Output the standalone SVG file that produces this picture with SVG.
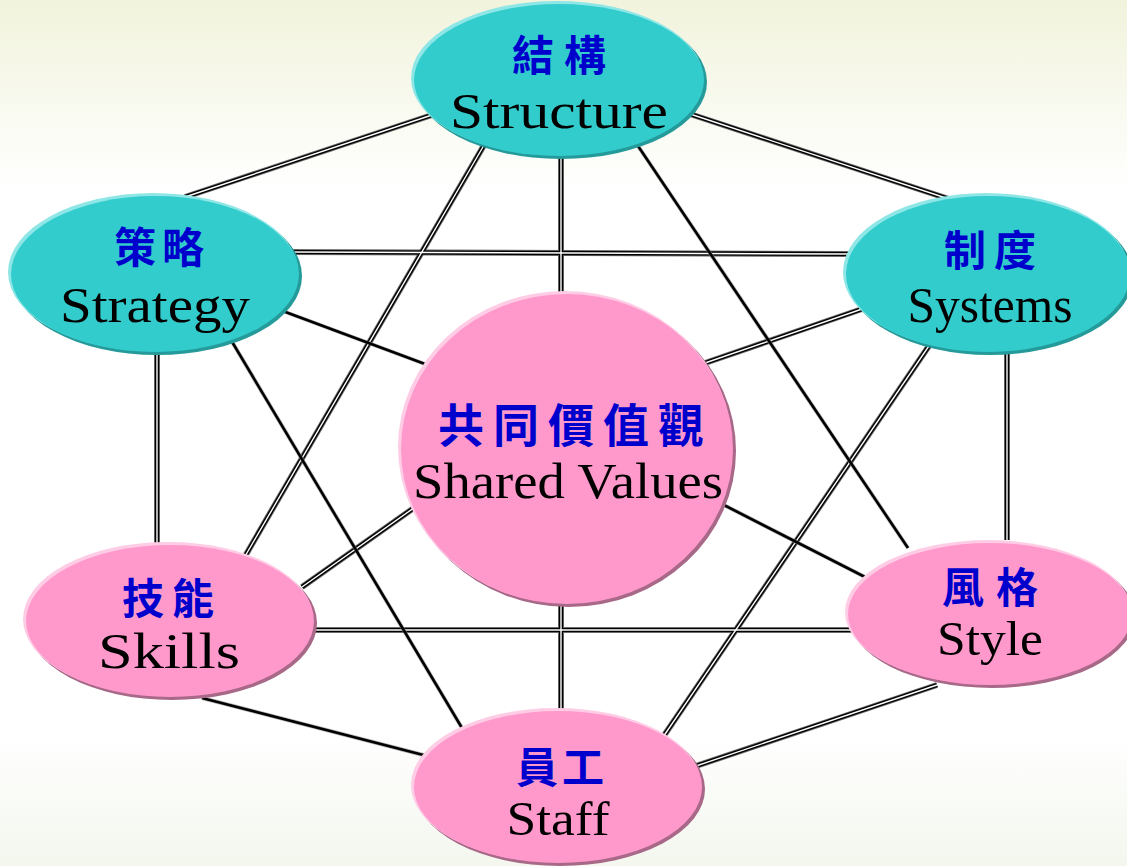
<svg xmlns="http://www.w3.org/2000/svg" xmlns:xlink="http://www.w3.org/1999/xlink" width="1127" height="866" viewBox="0 0 1127 866">
<style>
.en{font-family:"Liberation Serif","Times New Roman",serif;font-size:51px;fill:#000;text-anchor:middle}
.zh{font-family:"Noto Sans CJK TC","Noto Sans CJK SC",sans-serif;font-size:42px;font-weight:bold;fill:#0000CC;text-anchor:middle}
.tealS{fill:#249a9a}.tealH{fill:#8fe6e6}.teal{fill:#33CCCC}
.pinkS{fill:#a86888}.pinkH{fill:#ffcce6}.pink{fill:#FF99CC}
.dblA{stroke:#6a6a6a;stroke-width:6;fill:none}
.dblB{stroke:#000;stroke-width:4.2;fill:none}
.dblC{stroke:#fff;stroke-width:1.4;fill:none}
.sglA{stroke:#888;stroke-width:4;fill:none;opacity:0.6}
.sglB{stroke:#000;stroke-width:2.6;fill:none}
</style>
<defs>
<linearGradient id="bg" x1="0" y1="0" x2="0" y2="1">
<stop offset="0" stop-color="#F1F3DC"/>
<stop offset="0.22" stop-color="#FFFFFF"/>
<stop offset="0.85" stop-color="#FFFFFF"/>
<stop offset="1" stop-color="#F3F7EE"/>
</linearGradient>
<path id="d1" d="M432,115 L185,197"/>
<path id="d2" d="M690,114 L952,200"/>
<path id="d3" d="M561,155 L561,297"/>
<path id="d4" d="M487,140 L244,558"/>
<path id="d6" d="M287,252 L850,254"/>
<path id="d8" d="M157,352 L157,547"/>
<path id="d10" d="M865,308 L705,363"/>
<path id="d11" d="M1007,352 L1007,540"/>
<path id="d12" d="M935,337 L661,740"/>
<path id="d13" d="M418,505 L302,587"/>
<path id="d15" d="M561,604 L561,714"/>
<path id="d16" d="M315,630 L865,630"/>
<path id="d18" d="M937,685 L690,768"/>
<path id="s5" d="M634,140 L908,548"/>
<path id="s7" d="M272,307 L433,367"/>
<path id="s9" d="M228,335 L462,728"/>
<path id="s14" d="M718,502 L865,577"/>
<path id="s17" d="M202,698 L435,758"/>
</defs>
<rect x="0" y="0" width="1127" height="866" fill="url(#bg)"/>
<g id="connectors">
<g class="dblA"><use href="#d1"/><use href="#d2"/><use href="#d3"/><use href="#d4"/><use href="#d6"/><use href="#d8"/><use href="#d10"/><use href="#d11"/><use href="#d12"/><use href="#d13"/><use href="#d15"/><use href="#d16"/><use href="#d18"/></g>
<g class="dblB"><use href="#d1"/><use href="#d2"/><use href="#d3"/><use href="#d4"/><use href="#d6"/><use href="#d8"/><use href="#d10"/><use href="#d11"/><use href="#d12"/><use href="#d13"/><use href="#d15"/><use href="#d16"/><use href="#d18"/></g>
<g class="dblC"><use href="#d1"/><use href="#d2"/><use href="#d3"/><use href="#d4"/><use href="#d6"/><use href="#d8"/><use href="#d10"/><use href="#d11"/><use href="#d12"/><use href="#d13"/><use href="#d15"/><use href="#d16"/><use href="#d18"/></g>
<g class="sglA"><use href="#s5"/><use href="#s7"/><use href="#s9"/><use href="#s14"/><use href="#s17"/></g>
<g class="sglB"><use href="#s5"/><use href="#s7"/><use href="#s9"/><use href="#s14"/><use href="#s17"/></g>
</g>
<g id="structure">
<ellipse class="tealS" cx="561" cy="82" rx="146" ry="77"/>
<ellipse class="tealH" cx="557" cy="78" rx="146" ry="77"/>
<ellipse class="teal" cx="559" cy="80" rx="145" ry="76"/>
<text class="zh" x="559" y="71" textLength="94">結構</text>
<text class="en" x="559" y="128" textLength="218" lengthAdjust="spacingAndGlyphs">Structure</text>
</g>
<g id="strategy">
<ellipse class="tealS" cx="157" cy="276" rx="145" ry="79"/>
<ellipse class="tealH" cx="153" cy="272" rx="145" ry="79"/>
<ellipse class="teal" cx="155" cy="274" rx="144" ry="78"/>
<text class="zh" x="159" y="263" textLength="90">策略</text>
<text class="en" x="155" y="322" textLength="190" lengthAdjust="spacingAndGlyphs">Strategy</text>
</g>
<g id="systems">
<ellipse class="tealS" cx="990" cy="276" rx="143" ry="79"/>
<ellipse class="tealH" cx="986" cy="272" rx="143" ry="79"/>
<ellipse class="teal" cx="988" cy="274" rx="142" ry="78"/>
<text class="zh" x="990" y="266" textLength="92">制度</text>
<text class="en" x="990" y="322" textLength="165" lengthAdjust="spacingAndGlyphs">Systems</text>
</g>
<g id="shared-values">
<ellipse class="pinkS" cx="569" cy="451" rx="167" ry="156"/>
<ellipse class="pinkH" cx="565" cy="447" rx="167" ry="156"/>
<ellipse class="pink" cx="567" cy="449" rx="166" ry="155"/>
<text class="zh" x="571" y="442" style="font-size:46px" textLength="266">共同價值觀</text>
<text class="en" x="568" y="498" textLength="310" lengthAdjust="spacingAndGlyphs">Shared Values</text>
</g>
<g id="skills">
<ellipse class="pinkS" cx="172" cy="623" rx="145" ry="77"/>
<ellipse class="pinkH" cx="168" cy="619" rx="145" ry="77"/>
<ellipse class="pink" cx="170" cy="621" rx="144" ry="76"/>
<text class="zh" x="168" y="614" textLength="92">技能</text>
<text class="en" x="169" y="668" textLength="142" lengthAdjust="spacingAndGlyphs">Skills</text>
</g>
<g id="style">
<ellipse class="pinkS" cx="992" cy="616" rx="143" ry="72"/>
<ellipse class="pinkH" cx="988" cy="612" rx="143" ry="72"/>
<ellipse class="pink" cx="990" cy="614" rx="142" ry="71"/>
<text class="zh" x="990" y="603" textLength="96">風格</text>
<text class="en" x="990" y="655" style="font-size:48px" textLength="106" lengthAdjust="spacingAndGlyphs">Style</text>
</g>
<g id="staff">
<ellipse class="pinkS" cx="560" cy="789" rx="145" ry="77"/>
<ellipse class="pinkH" cx="556" cy="785" rx="145" ry="77"/>
<ellipse class="pink" cx="558" cy="787" rx="144" ry="76"/>
<text class="zh" x="560" y="783" textLength="88">員工</text>
<text class="en" x="558" y="835" style="font-size:48px" textLength="103" lengthAdjust="spacingAndGlyphs">Staff</text>
</g>
</svg>
